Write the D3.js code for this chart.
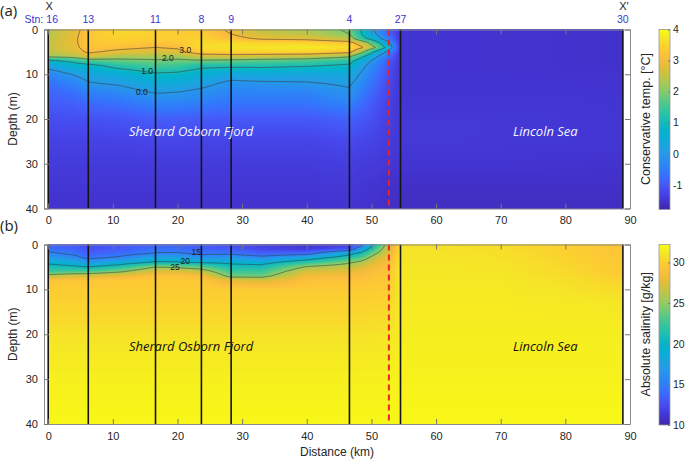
<!DOCTYPE html>
<html><head><meta charset="utf-8">
<script src="https://cdn.jsdelivr.net/npm/d3@7"></script>
<style>body{margin:0;background:#fff}svg{display:block}</style></head>
<body><svg id="c" width="685" height="460"></svg>
<script>
// ---------------- DATA ----------------
const xTicks = [0,10,20,30,40,50,60,70,80,90];
const yTicks = [0,10,20,30,40];
const tempTicks = [-1,0,1,2,3,4];
const salTicks = [10,15,20,25,30];
const stations = ["16","13","11","8","9","4","27","30"];
const stationDist = [0, 6.2, 16.6, 23.7, 28.3, 46.6, 54.5, 88.9];
const sillDist = 52.7;               // red dashed line
const depths = [0,1,2,3,4,5,6,7,8,10,12,14,17,20,25,30,35,40];
const dist   = [0,4,6.2,11,16.6,20,23.7,28.3,33,40,46.6,48.5,50.5,52.7,54.5,60,70,80,88.9];
// conservative temperature (°C): one profile (over depths) per distance
const tempProfiles = [
 [2.35,2.4,2.45,2.5,2.5,2.45,2.15,0.8,0.3,-0.4,-0.7,-0.85,-1.0,-1.15,-1.3,-1.4,-1.48,-1.53],
 [2.8,2.85,2.9,2.9,2.85,2.75,2.3,1.2,0.7,0.05,-0.4,-0.7,-0.95,-1.12,-1.3,-1.4,-1.48,-1.53],
 [3.25,3.3,3.3,3.3,3.25,3.1,2.7,1.6,0.8,0.3,-0.05,-0.45,-0.85,-1.1,-1.3,-1.4,-1.48,-1.53],
 [3.55,3.5,3.45,3.35,3.15,2.85,2.3,1.8,1.3,0.5,0.1,-0.3,-0.75,-1.05,-1.3,-1.4,-1.48,-1.53],
 [3.4,3.45,3.4,3.25,3.0,2.7,2.3,1.9,1.6,0.9,0.5,0.05,-0.5,-0.95,-1.25,-1.4,-1.48,-1.53],
 [3.35,3.4,3.4,3.3,3.1,2.8,2.25,1.85,1.5,0.85,0.4,0.0,-0.5,-0.95,-1.25,-1.4,-1.48,-1.53],
 [3.3,3.35,3.45,3.55,3.6,3.4,2.6,1.9,1.2,0.6,0.2,-0.15,-0.6,-0.98,-1.27,-1.4,-1.48,-1.53],
 [2.9,3.0,3.2,3.55,3.65,3.45,2.7,1.8,1.2,0.3,-0.15,-0.4,-0.7,-1.0,-1.27,-1.4,-1.48,-1.53],
 [2.5,2.6,2.9,3.5,3.7,3.5,2.6,1.7,1.2,0.4,-0.1,-0.4,-0.7,-1.0,-1.27,-1.4,-1.48,-1.53],
 [2.3,2.45,2.8,3.5,3.75,3.5,2.5,1.6,1.1,0.3,-0.05,-0.4,-0.7,-1.0,-1.27,-1.4,-1.48,-1.53],
 [1.9,2.0,2.4,3.3,3.65,3.2,2.1,1.3,0.9,0.4,0.1,-0.1,-0.5,-0.9,-1.2,-1.35,-1.45,-1.5],
 [0.9,1.0,1.3,2.6,3.1,2.2,1.2,0.5,0.2,-0.1,-0.3,-0.5,-0.8,-1.0,-1.25,-1.4,-1.48,-1.53],
 [-0.1,0.1,0.5,1.5,2.1,0.9,0.2,-0.2,-0.4,-0.6,-0.75,-0.9,-1.05,-1.15,-1.3,-1.42,-1.5,-1.55],
 [-0.9,-0.85,-0.6,0.1,0.6,-0.3,-0.75,-0.95,-1.05,-1.15,-1.2,-1.25,-1.3,-1.35,-1.4,-1.48,-1.55,-1.6],
 [-1.5,-1.5,-1.5,-1.5,-1.5,-1.5,-1.5,-1.5,-1.5,-1.5,-1.5,-1.5,-1.48,-1.45,-1.45,-1.5,-1.58,-1.62],
 [-1.5,-1.5,-1.5,-1.5,-1.5,-1.5,-1.5,-1.5,-1.5,-1.5,-1.5,-1.5,-1.48,-1.45,-1.45,-1.5,-1.58,-1.62],
 [-1.52,-1.52,-1.52,-1.52,-1.52,-1.52,-1.52,-1.52,-1.52,-1.5,-1.5,-1.5,-1.48,-1.46,-1.46,-1.5,-1.58,-1.62],
 [-1.53,-1.53,-1.53,-1.53,-1.53,-1.53,-1.53,-1.53,-1.53,-1.52,-1.5,-1.5,-1.48,-1.47,-1.47,-1.52,-1.58,-1.62],
 [-1.55,-1.55,-1.55,-1.55,-1.55,-1.55,-1.55,-1.55,-1.55,-1.53,-1.52,-1.5,-1.5,-1.48,-1.48,-1.53,-1.58,-1.62]
];
// absolute salinity (g/kg)
const salProfiles = [
 [13.5,14.2,15.5,17,19.5,21,22.5,26,29.4,29.8,30.0,30.2,30.5,30.9,31.3,31.6,31.8,31.95],
 [13,13.5,14.5,16,18.5,20.5,23,27,29.5,29.8,30.0,30.2,30.5,30.9,31.3,31.6,31.8,31.95],
 [12.5,12.8,13.3,14.5,17,20,23,27,29.5,29.8,30.0,30.2,30.5,30.9,31.3,31.6,31.8,31.95],
 [12.8,13.2,14,15.5,18.5,21.5,24.5,28,29.6,29.8,30.0,30.2,30.5,30.9,31.3,31.6,31.8,31.95],
 [13.5,14.2,15.2,18,20.5,25,27.5,29.2,29.6,29.8,30.0,30.2,30.5,30.9,31.3,31.6,31.8,31.95],
 [13.3,14,15.3,18,20.3,24.5,27.5,29.2,29.6,29.8,30.0,30.2,30.5,30.9,31.3,31.6,31.8,31.95],
 [13,13.5,14.5,16.5,19.8,23.5,26.5,28.7,29.6,29.8,30.0,30.2,30.5,30.9,31.3,31.6,31.8,31.95],
 [12.5,13.2,14.6,17,19.5,21,22.5,24,27.8,29.8,30.0,30.2,30.5,30.9,31.3,31.6,31.8,31.95],
 [11.8,12.2,13.5,16,19,21,22.5,24,27.3,29.7,30.0,30.2,30.5,30.9,31.3,31.6,31.8,31.95],
 [11,11.5,14,18.5,22,25.3,27.2,28.5,29.2,29.7,30.0,30.2,30.5,30.9,31.3,31.6,31.8,31.95],
 [11.5,13,19,22,24.7,26.5,27.7,28.6,29.2,29.7,30.0,30.2,30.5,30.9,31.3,31.6,31.8,31.95],
 [14,17.5,21,23.5,25.8,27.2,28.3,28.9,29.3,29.7,30.0,30.2,30.5,30.9,31.3,31.6,31.8,31.95],
 [20.5,22.5,24.5,26.5,27.7,28.5,29,29.3,29.5,29.8,30.1,30.3,30.6,31.0,31.35,31.6,31.8,31.95],
 [26.5,27.2,27.8,28.3,28.8,29.1,29.3,29.5,29.6,29.9,30.1,30.3,30.6,31.0,31.35,31.6,31.8,31.95],
 [30.8,30.9,31,31,31.1,31.1,31.2,31.2,31.2,31.3,31.3,31.4,31.4,31.5,31.6,31.7,31.85,31.95],
 [30.8,30.9,31,31,31.1,31.1,31.2,31.2,31.2,31.3,31.3,31.4,31.4,31.5,31.6,31.7,31.85,31.95],
 [30.6,30.7,30.8,30.9,31,31,31.1,31.1,31.2,31.3,31.3,31.4,31.4,31.5,31.6,31.7,31.85,31.95],
 [30.0,30.0,30.1,30.2,30.3,30.4,30.5,30.6,30.8,31.0,31.2,31.3,31.4,31.5,31.6,31.7,31.85,31.95],
 [29.3,29.3,29.4,29.4,29.5,29.6,29.7,29.9,30.1,30.5,30.9,31.2,31.4,31.5,31.6,31.7,31.85,31.95]
];
const tempLevels = [0,1,2,3];
const salLevels = [15,20,25];
const tempLabels = [{t:"3.0",km:21.2,d:4.6},{t:"2.0",km:18.5,d:6.4},{t:"1.0",km:15.3,d:9.3},{t:"0.0",km:14.5,d:13.9}];
const salLabels = [{t:"15",km:22.9,d:1.6},{t:"20",km:21.2,d:3.6},{t:"25",km:19.6,d:5.1}];
const parulaHex = ["#3e26a8","#4334d1","#4647eb","#445efa","#3375fc","#2b87f5","#2696eb","#1ca3e0","#0aadd6","#05b5c7","#1cbdb3","#33c49e","#54c987","#80cc6e","#a6c957","#c9c242","#e6bd36","#fcbd3d","#fccf30","#f5e626","#f9fb14"];

// ---------------- DRAW ----------------
const svg = d3.select("#c");
const parula = d3.scaleLinear().domain(parulaHex.map((c,i)=>i/(parulaHex.length-1))).range(parulaHex).interpolate(d3.interpolateRgb).clamp(true);
const x = d3.scaleLinear().domain([-0.65,90]).range([44,630]);
const FONT = "'Liberation Sans', Arial, sans-serif";
const HFONT = "'Open Sans', sans-serif";

function sampler(grid){
  return (km,z)=>{
    let i = Math.max(0, Math.min(dist.length-2, d3.bisectRight(dist,km)-1));
    let j = Math.max(0, Math.min(depths.length-2, d3.bisectRight(depths,z)-1));
    let tx = Math.max(0,Math.min(1,(km-dist[i])/(dist[i+1]-dist[i])));
    let tz = Math.max(0,Math.min(1,(z-depths[j])/(depths[j+1]-depths[j])));
    const a=grid[i][j], b=grid[i+1][j], c=grid[i][j+1], d=grid[i+1][j+1];
    return (a*(1-tx)+b*tx)*(1-tz)+(c*(1-tx)+d*tx)*tz;
  };
}

function panel(o){
  const y = d3.scaleLinear().domain([0,40]).range(o.yr);
  const col = d3.scaleSequential(parula).domain(o.cdom).clamp(true);
  const f = sampler(o.grid);
  const xs = Math.round(x(dist[0])), xe = Math.round(x(dist[dist.length-1]));
  const ys = Math.floor(o.yr[0]), ye = Math.ceil(o.yr[1]);
  const w = xe-xs, h = ye-ys;
  const cv = document.createElement("canvas"); cv.width=w; cv.height=h;
  const ctx = cv.getContext("2d"); const img = ctx.createImageData(w,h);
  const vals = new Float64Array(w*h);
  for(let r=0;r<h;r++){
    const z = Math.max(0,Math.min(40,y.invert(ys+r+0.5)));
    for(let c=0;c<w;c++){
      const km = x.invert(xs+c+0.5);
      const v = f(km,z); vals[r*w+c]=v;
      const rgb = d3.rgb(col(v)); const k=(r*w+c)*4;
      img.data[k]=rgb.r; img.data[k+1]=rgb.g; img.data[k+2]=rgb.b; img.data[k+3]=255;
    }
  }
  ctx.putImageData(img,0,0);
  const g = svg.append("g");
  g.append("image").attr("x",xs).attr("y",ys).attr("width",w).attr("height",h)
    .attr("preserveAspectRatio","none").attr("href",cv.toDataURL());
  // contours
  const cid = "clip"+o.id;
  svg.append("clipPath").attr("id",cid).append("rect").attr("x",1).attr("y",1).attr("width",w-2).attr("height",h-2);
  const cont = d3.contours().size([w,h]).thresholds(o.levels)(vals);
  g.append("g").attr("transform",`translate(${xs},${ys})`).attr("clip-path",`url(#${cid})`)
    .selectAll("path").data(cont).join("path").attr("d",d3.geoPath())
    .attr("fill","none").attr("stroke","#3a3a3a").attr("stroke-width",0.7).attr("stroke-opacity",0.85);
  g.selectAll("text.cl").data(o.labels).join("text").attr("class","cl")
    .attr("x",d=>x(d.km)).attr("y",d=>y(d.d)).attr("dy","0.35em").attr("text-anchor","middle")
    .attr("font-family",FONT).attr("font-size",8.5).attr("fill","#1a1a1a").text(d=>d.t);
  // station lines
  g.selectAll("line.st").data(stationDist).join("line").attr("class","st")
    .attr("x1",d=>x(d)).attr("x2",d=>x(d)).attr("y1",y(0)).attr("y2",y(40))
    .attr("stroke","#151515").attr("stroke-width",1.6);
  g.append("line").attr("x1",x(sillDist)).attr("x2",x(sillDist)).attr("y1",y(0)).attr("y2",y(40))
    .attr("stroke","#e8232a").attr("stroke-width",2).attr("stroke-dasharray","6,4");
  // region labels
  g.append("text").attr("x",x(22.1)).attr("y",y(22.7)).attr("text-anchor","middle").attr("dy","0.35em")
    .attr("font-family",HFONT).attr("font-style","italic").attr("font-size",13).attr("fill",o.tc).text("Sherard Osborn Fjord");
  g.append("text").attr("x",x(76.9)).attr("y",y(22.7)).attr("text-anchor","middle").attr("dy","0.35em")
    .attr("font-family",HFONT).attr("font-style","italic").attr("font-size",13).attr("fill",o.tc).text("Lincoln Sea");
  // axes
  const ax = (sel)=>{sel.selectAll(".domain").attr("stroke","#8c8c8c");sel.selectAll(".tick line").attr("stroke","#777");
    sel.selectAll("text").attr("font-family",FONT).attr("font-size",11).attr("fill","#262626");};
  svg.append("g").attr("transform",`translate(0,${o.yr[1]})`).call(d3.axisBottom(x).tickValues(xTicks).tickSize(-5).tickPadding(8).tickSizeOuter(0)).call(ax);
  svg.append("g").attr("transform",`translate(0,${o.yr[0]})`).call(d3.axisTop(x).tickValues(xTicks).tickSize(-5).tickFormat("").tickSizeOuter(0)).call(ax);
  svg.append("g").attr("transform",`translate(${x.range()[0]},0)`).call(d3.axisLeft(y).tickValues(yTicks).tickSize(-5).tickPadding(6).tickSizeOuter(0)).call(ax);
  svg.append("g").attr("transform",`translate(${x.range()[1]},0)`).call(d3.axisRight(y).tickValues(yTicks).tickSize(-5).tickFormat("").tickSizeOuter(0)).call(ax);
  svg.append("text").attr("transform",`translate(17,${(o.yr[0]+o.yr[1])/2}) rotate(-90)`).attr("text-anchor","middle")
    .attr("font-family",FONT).attr("font-size",12).attr("fill","#262626").text("Depth (m)");
  // colorbar
  const cb = d3.scaleLinear().domain(o.cdom).range([o.yr[1]+1,o.yr[0]]);
  const gid = "grad"+o.id;
  const lg = svg.append("defs").append("linearGradient").attr("id",gid).attr("x1",0).attr("x2",0).attr("y1",1).attr("y2",0);
  d3.range(0,1.0001,0.02).forEach(t=>lg.append("stop").attr("offset",t).attr("stop-color",col(o.cdom[0]+t*(o.cdom[1]-o.cdom[0]))));
  svg.append("rect").attr("x",659).attr("y",cb.range()[1]).attr("width",11).attr("height",cb.range()[0]-cb.range()[1])
    .attr("fill",`url(#${gid})`).attr("stroke","#9a9a9a").attr("stroke-width",0.8);
  svg.append("g").attr("transform","translate(670,0)").call(d3.axisRight(cb).tickValues(o.cticks).tickSize(-2).tickPadding(3).tickSizeOuter(0).tickFormat(d=>String(d)))
    .call(s=>{s.select(".domain").remove();s.selectAll(".tick line").attr("stroke","#777");
      s.selectAll("text").attr("font-family",FONT).attr("font-size",10.5).attr("fill","#262626");});
  svg.append("text").attr("transform",`translate(650,${(o.yr[0]+o.yr[1])/2}) rotate(-90)`).attr("text-anchor","middle")
    .attr("font-family",FONT).attr("font-size",12.5).attr("fill","#262626").text(o.clabel);
  svg.append("text").attr("x",0).attr("y",o.yr[0]-14).attr("font-family",HFONT).attr("font-size",15).attr("fill","#222").text(o.tag);
}

panel({id:"a",yr:[29.5,208.5],grid:tempProfiles,cdom:[-1.8,4],levels:tempLevels,labels:tempLabels,tc:"#f4f4ff",
  cticks:tempTicks,clabel:"Conservative temp. [°C]",tag:"(a)"});
panel({id:"b",yr:[244.5,424],grid:salProfiles,cdom:[10,32.2],levels:salLevels,labels:salLabels,tc:"#111",
  cticks:salTicks,clabel:"Absolute salinity [g/kg]",tag:"(b)"});

// station labels
svg.append("g").selectAll("text").data(stations).join("text")
  .attr("x",(d,i)=>x(stationDist[i])+(i==0?4:0)).attr("y",23).attr("text-anchor","middle")
  .attr("font-family",FONT).attr("font-size",10.5).attr("fill","#3838cc").text(d=>d);
svg.append("text").attr("x",x(0)-5).attr("y",23).attr("text-anchor","end")
  .attr("font-family",FONT).attr("font-size",10.5).attr("fill","#3838cc").text("Stn:");
svg.append("text").attr("x",x(0)+1).attr("y",10).attr("text-anchor","middle")
  .attr("font-family",FONT).attr("font-size",11).attr("fill","#222").text("X");
svg.append("text").attr("x",x(stationDist[7])+1).attr("y",10).attr("text-anchor","middle")
  .attr("font-family",FONT).attr("font-size",11).attr("fill","#222").text("X\u2032");
svg.append("text").attr("x",337).attr("y",456).attr("text-anchor","middle")
  .attr("font-family",FONT).attr("font-size",12).attr("fill","#262626").text("Distance (km)");
</script></body></html>
